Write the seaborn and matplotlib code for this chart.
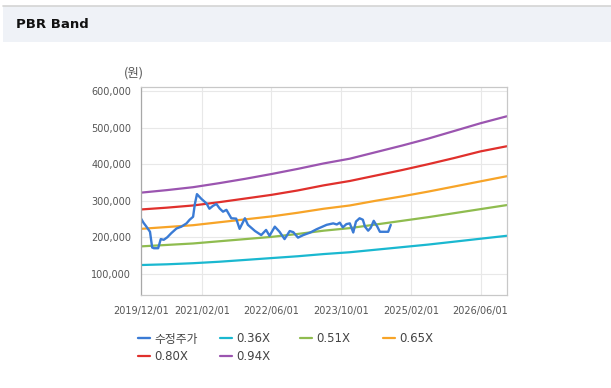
import matplotlib
matplotlib.use('Agg')
import pandas as pd
import matplotlib.pyplot as plt
import matplotlib.ticker as mticker
from matplotlib.patches import Rectangle
from matplotlib.lines import Line2D
import seaborn as sns

sns.set_theme(style='whitegrid')
plt.rcParams['font.family'] = ['DejaVu Sans', 'Noto Sans CJK KR']

# ----------------------------------------------------------------------
# Data
# ----------------------------------------------------------------------
band_dates = ['2019-12-01', '2020-06-01', '2020-12-01', '2021-06-01', '2021-12-01',
              '2022-06-01', '2022-12-01', '2023-06-01', '2023-12-01', '2024-06-01',
              '2024-12-01', '2025-06-01', '2025-12-01', '2026-06-01', '2026-12-01']
pbr_036 = [124000, 126000, 129000, 133000, 138000, 143000, 148000, 154000, 159000, 166000,
           173000, 180000, 188000, 196000, 204000]
pbr_051 = [175000, 179000, 183000, 189000, 195000, 201000, 209000, 218000, 225000, 235000,
           245000, 255000, 266000, 277000, 288000]
pbr_065 = [223000, 228000, 233000, 241000, 249000, 257000, 267000, 278000, 287000, 300000,
           312000, 325000, 339000, 353000, 367000]
pbr_080 = [276000, 281000, 287000, 296000, 306000, 316000, 328000, 342000, 354000, 369000,
           384000, 400000, 417000, 435000, 449000]
pbr_094 = [322000, 329000, 337000, 348000, 360000, 373000, 387000, 402000, 415000, 433000,
           451000, 470000, 491000, 512000, 531000]

price_dates = ['2019-12-02', '2019-12-20', '2020-01-10', '2020-02-04', '2020-02-19',
               '2020-03-02', '2020-04-01', '2020-04-19', '2020-05-10', '2020-06-04',
               '2020-07-01', '2020-08-07', '2020-09-10', '2020-10-16', '2020-11-07',
               '2020-12-01', '2020-12-13', '2020-12-28', '2021-01-28', '2021-03-04',
               '2021-03-25', '2021-04-19', '2021-05-13', '2021-06-04', '2021-06-28',
               '2021-07-22', '2021-08-25', '2021-09-28', '2021-10-22', '2021-11-28',
               '2021-12-19', '2022-02-07', '2022-03-22', '2022-04-25', '2022-05-19',
               '2022-06-25', '2022-07-28', '2022-09-01', '2022-10-07', '2022-11-01',
               '2022-12-04', '2023-01-10', '2023-02-28', '2023-04-13', '2023-06-22',
               '2023-08-07', '2023-09-01', '2023-09-22', '2023-10-13', '2023-11-07',
               '2023-12-01', '2023-12-25', '2024-01-13', '2024-02-07', '2024-03-01',
               '2024-03-16', '2024-04-07', '2024-04-25', '2024-05-16', '2024-06-10',
               '2024-06-28', '2024-08-25', '2024-09-12']
price = [252000, 240000, 229000, 215000, 172000,
         170000, 170000, 195000, 193000, 200000,
         211000, 224000, 229000, 238000, 248000,
         256000, 290000, 318000, 305000, 293000,
         278000, 286000, 291000, 279000, 270000,
         275000, 252000, 251000, 223000, 252000,
         234000, 217000, 206000, 220000, 204000,
         229000, 215000, 195000, 217000, 214000,
         199000, 206000, 213000, 222000, 234000,
         238000, 235000, 240000, 227000, 236000,
         238000, 213000, 243000, 252000, 248000,
         229000, 218000, 226000, 245000, 229000,
         215000, 215000, 234000]

tick_dates = ['2019-12-01', '2021-02-01', '2022-06-01', '2023-10-01', '2025-02-01', '2026-06-01']
tick_labels = ['2019/12/01', '2021/02/01', '2022/06/01', '2023/10/01', '2025/02/01', '2026/06/01']
y_ticks = [100000, 200000, 300000, 400000, 500000, 600000]

series = [
    ('0.36X', pbr_036, '#1ab8d0'),
    ('0.51X', pbr_051, '#8fbc4f'),
    ('0.65X', pbr_065, '#f7a428'),
    ('0.80X', pbr_080, '#e0302c'),
    ('0.94X', pbr_094, '#9b55b0'),
]

W, H = 611, 388
fig = plt.figure(figsize=(W / 100, H / 100), dpi=100)
fig.patch.set_facecolor('white')

# header band
fig.patches.append(Rectangle((3 / W, 1 - 42 / H), 1 - 3 / W, 36 / H, transform=fig.transFigure,
                             facecolor='#eff2f7', edgecolor='none', zorder=0))
fig.lines.append(Line2D([3 / W, 1], [1 - 6 / H, 1 - 6 / H], transform=fig.transFigure,
                        color='#d4d4d4', lw=1.2))
fig.text(16 / W, 1 - 25 / H, 'PBR Band', fontsize=9.5, fontweight='bold', color='#111111',
         ha='left', va='center')

ax = fig.add_axes([140.7 / W, 1 - 295 / H, 366 / W, 208.3 / H])
ax.set_facecolor('white')

bd = pd.to_datetime(band_dates)
for name, vals, color in series:
    sns.lineplot(x=bd, y=vals, ax=ax, color=color, lw=1.6, label=name)
sns.lineplot(x=pd.to_datetime(price_dates), y=price, ax=ax, color='#3a7bd5', lw=1.7,
             label='수정주가')

ax.set_xlim(pd.Timestamp('2019-12-01'), pd.Timestamp('2026-12-01'))
ax.set_ylim(42000, 612000)
ax.set_xticks(pd.to_datetime(tick_dates))
ax.set_xticklabels(tick_labels)
ax.set_yticks(y_ticks)
ax.yaxis.set_major_formatter(mticker.FuncFormatter(lambda v, p: f'{v:,.0f}'))
ax.set_xlabel('')
ax.set_ylabel('')

ax.grid(True, color='#e8e8e8', lw=0.8)
for side, sp in ax.spines.items():
    sp.set_visible(True)
    sp.set_color('#c8c8c8')
    sp.set_linewidth(0.9)
ax.spines['left'].set_color('#a8a8a8')
ax.tick_params(axis='both', length=4, width=0.8, color='#b0b0b0', labelsize=7,
               labelcolor='#555555', pad=3, direction='out')
ax.tick_params(axis='x', pad=4)

fig.text(133.8 / W, 1 - 73 / H, '(원)', fontsize=9, color='#555555', ha='center', va='center',
         family=['Noto Sans CJK KR', 'DejaVu Sans'])

# legend, laid out on fixed slots like the original
handles, labels = ax.get_legend_handles_labels()
ax.get_legend().remove()
lookup = dict(zip(labels, handles))
slots = [('수정주가', 138, 339), ('0.36X', 220, 339), ('0.51X', 300, 339), ('0.65X', 383, 339),
         ('0.80X', 138, 357), ('0.94X', 220, 357)]
for name, x, y in slots:
    fig.legend(handles=[lookup[name]], labels=[name], loc='center left',
               bbox_to_anchor=(x / W, 1 - y / H), frameon=False, fontsize=8.5,
               handlelength=1.0, handletextpad=0.4, borderpad=0, borderaxespad=0,
               labelcolor='#444444')

fig.savefig('out.png', dpi=100)
